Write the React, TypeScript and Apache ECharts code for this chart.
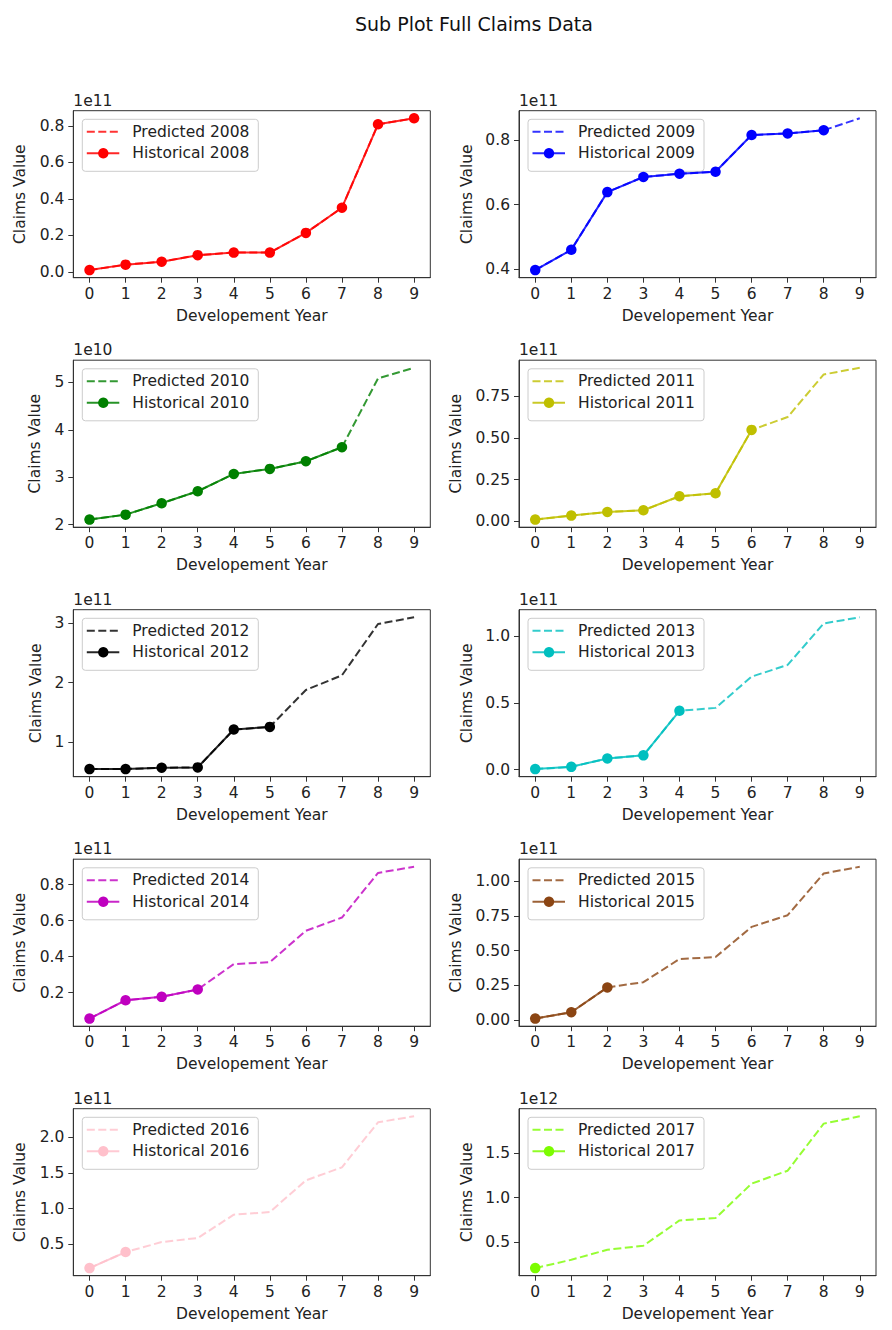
import React, { useEffect, useRef } from "react";
import * as echarts from "echarts";

// ---------- data ----------
const devYears = [0, 1, 2, 3, 4, 5, 6, 7, 8, 9];
const accidentYears = ["2008", "2009", "2010", "2011", "2012", "2013", "2014", "2015", "2016", "2017"];
const seriesColors = ["#ff0000", "#0000ff", "#008000", "#bfbf00", "#000000", "#00bfbf", "#bf00bf", "#8b4513", "#ffc0cb", "#7cfc00"];
const offsetLabels = ["1e11", "1e11", "1e10", "1e11", "1e11", "1e11", "1e11", "1e11", "1e11", "1e12"];

const hist2008 = [0.009, 0.039, 0.055, 0.091, 0.105, 0.105, 0.213, 0.351, 0.808, 0.841];
const pred2008 = [0.009, 0.039, 0.055, 0.091, 0.105, 0.105, 0.213, 0.351, 0.808, 0.841];
const hist2009 = [0.397, 0.46, 0.639, 0.686, 0.696, 0.702, 0.816, 0.821, 0.831];
const pred2009 = [0.397, 0.46, 0.639, 0.686, 0.696, 0.702, 0.816, 0.821, 0.831, 0.868];
const hist2010 = [2.106, 2.211, 2.451, 2.704, 3.07, 3.176, 3.338, 3.634];
const pred2010 = [2.106, 2.211, 2.451, 2.704, 3.07, 3.176, 3.338, 3.634, 5.085, 5.31];
const hist2011 = [0.01, 0.034, 0.056, 0.066, 0.15, 0.168, 0.549];
const pred2011 = [0.01, 0.034, 0.056, 0.066, 0.15, 0.168, 0.549, 0.626, 0.882, 0.922];
const hist2012 = [0.542, 0.542, 0.565, 0.571, 1.209, 1.254];
const pred2012 = [0.542, 0.542, 0.565, 0.571, 1.209, 1.254, 1.876, 2.124, 2.989, 3.102];
const hist2013 = [0.003, 0.02, 0.083, 0.106, 0.44];
const pred2013 = [0.003, 0.02, 0.083, 0.106, 0.44, 0.462, 0.696, 0.784, 1.095, 1.141];
const hist2014 = [0.055, 0.157, 0.176, 0.217];
const pred2014 = [0.055, 0.157, 0.176, 0.217, 0.358, 0.369, 0.543, 0.617, 0.865, 0.899];
const hist2015 = [0.012, 0.058, 0.236];
const pred2015 = [0.012, 0.058, 0.236, 0.274, 0.44, 0.454, 0.671, 0.755, 1.055, 1.103];
const hist2016 = [0.168, 0.393];
const pred2016 = [0.168, 0.393, 0.533, 0.589, 0.916, 0.953, 1.397, 1.579, 2.21, 2.294];
const hist2017 = [0.213];
const pred2017 = [0.213, 0.306, 0.418, 0.463, 0.746, 0.772, 1.157, 1.302, 1.828, 1.91];

const yTicks2008 = ["0.0", "0.2", "0.4", "0.6", "0.8"];
const yTicks2009 = ["0.4", "0.6", "0.8"];
const yTicks2010 = ["2", "3", "4", "5"];
const yTicks2011 = ["0.00", "0.25", "0.50", "0.75"];
const yTicks2012 = ["1", "2", "3"];
const yTicks2013 = ["0.0", "0.5", "1.0"];
const yTicks2014 = ["0.2", "0.4", "0.6", "0.8"];
const yTicks2015 = ["0.00", "0.25", "0.50", "0.75", "1.00"];
const yTicks2016 = ["0.5", "1.0", "1.5", "2.0"];
const yTicks2017 = ["0.5", "1.0", "1.5"];

const histList = [hist2008, hist2009, hist2010, hist2011, hist2012, hist2013, hist2014, hist2015, hist2016, hist2017];
const predList = [pred2008, pred2009, pred2010, pred2011, pred2012, pred2013, pred2014, pred2015, pred2016, pred2017];
const tickList = [yTicks2008, yTicks2009, yTicks2010, yTicks2011, yTicks2012, yTicks2013, yTicks2014, yTicks2015, yTicks2016, yTicks2017];

// ---------- layout ----------
const FONT = "DejaVu Sans";
const FS = 15.5;
const colLeft = [73.3, 519];
const gridW = 357;
const gridH = 167;
const rowTop0 = 110.7;
const rowStep = 249.5;
const yNameGaps = [45, 44, 30, 55, 29, 44, 45, 55, 45, 44];

function buildOption() {
  const grid: any[] = [];
  const xAxis: any[] = [];
  const yAxis: any[] = [];
  const series: any[] = [];
  const graphic: any[] = [];

  accidentYears.forEach((year, i) => {
    const col = i % 2;
    const row = Math.floor(i / 2);
    const left = colLeft[col];
    const top = rowTop0 + row * rowStep;
    const color = seriesColors[i];
    const hist = histList[i];
    const pred = predList[i];
    const ticks = tickList[i];
    const tickVals = ticks.map((t) => parseFloat(t));

    const all = pred.concat(hist);
    const dMin = Math.min(...all);
    const dMax = Math.max(...all);
    const margin = (dMax - dMin) * 0.05;

    grid.push({
      left,
      top,
      width: gridW,
      height: gridH,
      show: true,
      borderColor: "#333",
      borderWidth: 1,
      backgroundColor: "transparent",
      containLabel: false,
    });

    xAxis.push({
      type: "value",
      gridIndex: i,
      min: -0.45,
      max: 9.45,
      name: "Developement Year",
      nameLocation: "middle",
      nameGap: 30,
      nameMoveOverlap: false,
      nameTextStyle: { fontFamily: FONT, fontSize: FS, color: "#222" },
      splitLine: { show: false },
      axisLine: { show: true, onZero: false, lineStyle: { color: "#333", width: 1 } },
      axisTick: { show: true, length: 5, customValues: devYears, lineStyle: { color: "#333" } },
      axisLabel: {
        customValues: devYears,
        margin: 8,
        fontFamily: FONT,
        fontSize: FS,
        color: "#222",
        formatter: (v: number) => String(Math.round(v)),
      },
    });

    yAxis.push({
      type: "value",
      gridIndex: i,
      min: dMin - margin,
      max: dMax + margin,
      name: "Claims Value",
      nameLocation: "middle",
      nameGap: yNameGaps[i],
      nameMoveOverlap: false,
      nameTextStyle: { fontFamily: FONT, fontSize: FS, color: "#222" },
      splitLine: { show: false },
      axisLine: { show: true, onZero: false, lineStyle: { color: "#333", width: 1 } },
      axisTick: { show: true, length: 5, customValues: tickVals, lineStyle: { color: "#333" } },
      axisLabel: {
        customValues: tickVals,
        margin: 9,
        fontFamily: FONT,
        fontSize: FS,
        color: "#222",
        formatter: (v: number) => {
          const idx = tickVals.findIndex((t) => Math.abs(t - v) < 1e-9);
          return idx >= 0 ? ticks[idx] : "";
        },
      },
    });

    series.push({
      type: "line",
      name: "Predicted " + year,
      xAxisIndex: i,
      yAxisIndex: i,
      data: pred.map((v, k) => [devYears[k], v]),
      symbol: "none",
      lineStyle: { color, width: 2, type: [8, 3.5], opacity: 0.8 },
      itemStyle: { color },
      silent: true,
    });
    series.push({
      type: "line",
      name: "Historical " + year,
      xAxisIndex: i,
      yAxisIndex: i,
      data: hist.map((v, k) => [devYears[k], v]),
      symbol: "circle",
      symbolSize: 10.5,
      showSymbol: true,
      lineStyle: { color, width: 2, opacity: 0.85 },
      itemStyle: { color, borderWidth: 0 },
      silent: true,
    });

    // offset ("1e11") label
    graphic.push({
      type: "text",
      x: left,
      y: top - 2,
      style: {
        text: offsetLabels[i],
        fontFamily: FONT,
        fontSize: FS,
        fill: "#222",
        verticalAlign: "bottom",
        align: "left",
      },
    });

    // legend box
    graphic.push({
      type: "group",
      x: left + 9,
      y: top + 8.6,
      children: [
        {
          type: "rect",
          shape: { x: 0, y: 0, width: 176, height: 52, r: 3 },
          style: { fill: "rgba(255,255,255,0.8)", stroke: "#cccccc", lineWidth: 1 },
        },
        {
          type: "line",
          shape: { x1: 4.5, y1: 12.5, x2: 37, y2: 12.5 },
          style: { stroke: color, lineWidth: 2, lineDash: [8, 3.5], opacity: 0.8 },
        },
        {
          type: "text",
          x: 50,
          y: 12.5,
          style: { text: "Predicted " + year, fontFamily: FONT, fontSize: FS, fill: "#222", verticalAlign: "middle" },
        },
        {
          type: "line",
          shape: { x1: 4.5, y1: 34, x2: 37, y2: 34 },
          style: { stroke: color, lineWidth: 2, opacity: 0.85 },
        },
        {
          type: "circle",
          shape: { cx: 21, cy: 34, r: 5.2 },
          style: { fill: color },
        },
        {
          type: "text",
          x: 50,
          y: 34,
          style: { text: "Historical " + year, fontFamily: FONT, fontSize: FS, fill: "#222", verticalAlign: "middle" },
        },
      ],
    });
  });

  return {
    animation: false,
    backgroundColor: "#ffffff",
    title: {
      text: "Sub Plot Full Claims Data",
      left: 350,
      top: 9,
      textStyle: { fontFamily: FONT, fontSize: 19, fontWeight: "normal", color: "#111" },
    },
    grid,
    xAxis,
    yAxis,
    series,
    graphic,
  };
}

export default function App() {
  const ref = useRef<HTMLDivElement>(null);
  useEffect(() => {
    if (!ref.current) return;
    const chart = echarts.init(ref.current, undefined, { renderer: "svg" });
    chart.setOption(buildOption() as any);
    return () => chart.dispose();
  }, []);
  return (
    <div
      ref={ref}
      style={{ position: "absolute", left: 0, top: 0, width: 892, height: 1330, background: "#fff" }}
    />
  );
}
